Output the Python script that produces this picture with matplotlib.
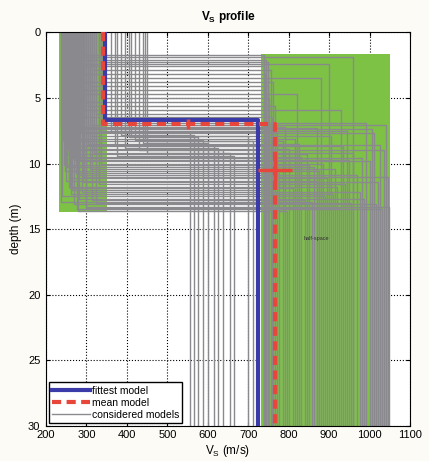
import numpy as np
import matplotlib.pyplot as plt
from matplotlib.patches import Rectangle

plt.rcParams["font.family"] = ["Liberation Sans", "DejaVu Sans"]

# =============================================================================
# Inversion results

ZMAX = 30.0

# Search bounds (Vs min, Vs max, depth top, depth bottom)
bound_layer = [233, 350, 0.0, 13.7]
bound_half = [732, 1050, 1.65, ZMAX]

# Considered models: layer Vs, interface depth, half-space Vs
model_vs1 = [
    250, 300, 265, 330, 285, 245, 320, 275, 340, 255, 310, 290, 270, 335, 260,
    305, 280, 325, 295, 340, 315, 295, 330, 270, 310, 360, 385, 405, 420, 440,
    370, 395, 430, 450, 375, 410, 445, 240, 300, 255, 320, 265, 285, 245, 310,
    275, 295, 250, 330, 260, 290, 240, 315, 270, 300, 280, 325, 250, 335, 265,
    238, 243, 248, 252, 258, 262, 268, 272, 278, 282, 288, 292, 298, 303, 237,
    247, 256, 267, 277, 287,
]
model_h = [
    1.75, 1.9, 2.1, 2.3, 2.45, 2.6, 2.9, 3.2, 3.5, 3.8, 4.1, 4.4, 4.7, 5.0, 5.3,
    5.6, 5.9, 6.2, 6.45, 6.9, 7.1, 7.3, 7.5, 7.7, 7.9, 7.6, 7.8, 8.0, 8.2, 8.4,
    8.6, 8.8, 9.0, 9.2, 9.4, 7.9, 8.3, 8.3, 8.6, 8.9, 9.2, 9.5, 9.8, 10.1, 10.4,
    10.7, 11.0, 11.3, 11.6, 11.9, 12.2, 12.5, 12.8, 13.1, 13.4, 13.6, 13.0, 9.0, 10.0, 12.0,
    7.2, 8.1, 9.3, 10.3, 11.1, 12.3, 8.7, 9.7, 10.9, 12.7, 7.4, 11.4, 13.3, 8.5, 12.9,
    10.6, 11.8, 9.6, 13.5, 7.6,
]
model_vs2 = [
    740, 960, 745, 750, 900, 738, 755, 742, 880, 760, 748, 745, 820, 752, 740,
    765, 930, 744, 758, 990, 1040, 870, 945, 1010, 905, 555, 565, 575, 588, 600,
    615, 625, 638, 655, 665, 700, 712, 785, 1025, 800, 960, 830, 1000, 850, 915,
    775, 1045, 870, 940, 810, 975, 890, 840, 1015, 925, 795, 955, 1035, 885, 760,
    790, 815, 845, 862, 895, 910, 935, 950, 968, 985, 1005, 1020, 1048, 825, 858,
    875, 920, 982, 1030, 770,
]

# Fittest and mean models
fit_vs = [345, 725]
fit_h = 6.7
mean_vs = [340, 765]
mean_h = 7.0

# Mean-model uncertainties
err_depth_at = (552, 7.0)
err_depth = 0.4
err_vs_at = (765, 10.5)
err_vs = 42
err_vs_depth = 0.8


def step_profile(vs1, h, vs2):
    """Two-layer staircase from the surface down to ZMAX"""
    return [vs1, vs1, vs2, vs2], [0.0, h, h, ZMAX]


# =============================================================================
# Plot

fg = plt.figure(figsize=(4.29, 4.61), dpi=100, facecolor="#fcfbf6")
ax = fg.add_axes([0.107, 0.076, 0.849, 0.854])

GREEN = "#7dc244"
GREY = "#8a8a8e"

for b in (bound_layer, bound_half):
    ax.add_patch(
        Rectangle((b[0], b[2]), b[1] - b[0], b[3] - b[2], facecolor=GREEN,
                  edgecolor="none", zorder=1)
    )

for i, (v1, h, v2) in enumerate(zip(model_vs1, model_h, model_vs2)):
    x, y = step_profile(v1, h, v2)
    ax.plot(x, y, color=GREY, lw=1.0, zorder=2,
            label="considered models" if i == 0 else None)

x, y = step_profile(fit_vs[0], fit_h, fit_vs[1])
ax.plot(x, y, color="#3a3aa8", lw=3, zorder=4, label="fittest model")

x, y = step_profile(mean_vs[0], mean_h, mean_vs[1])
ax.plot(x, y, color="#e8463a", lw=3, ls=(0, (2.2, 1.3)), zorder=5, label="mean model")

ax.errorbar(err_depth_at[0], err_depth_at[1], yerr=err_depth, color="#e8463a",
            lw=2.5, capsize=0, zorder=5)
ax.errorbar(err_vs_at[0], err_vs_at[1], xerr=err_vs, yerr=err_vs_depth,
            color="#e8463a", lw=2.5, capsize=0, zorder=5)

ax.text(838, 15.8, "half-space", fontsize=4, color="#333333", zorder=3)

ax.set_xlim(200, 1100)
ax.set_ylim(ZMAX, 0)
ax.set_xticks(np.arange(200, 1101, 100))
ax.set_yticks(np.arange(0, 31, 5))
ax.grid(True, color="k", ls=":", lw=0.8)
ax.set_axisbelow(True)
ax.tick_params(axis="both", labelsize=8, direction="in", length=3,
               top=True, right=True)
ax.tick_params(axis="x", pad=3)
ax.tick_params(axis="y", pad=4)
for sp in ax.spines.values():
    sp.set_linewidth(0.8)

ax.set_title(r"V$_\mathregular{S}$ profile", fontsize=8.5, fontweight="bold", pad=9)
ax.set_xlabel(r"V$_\mathregular{S}$ (m/s)", fontsize=8.5, labelpad=2)
ax.set_ylabel("depth (m)", fontsize=8.5, labelpad=4)

handles, labels = ax.get_legend_handles_labels()
order = [labels.index(n) for n in ("fittest model", "mean model", "considered models")]
ax.legend([handles[k] for k in order], [labels[k] for k in order],
          loc="lower left", fontsize=7.5, frameon=True, fancybox=False,
          edgecolor="k", framealpha=1, handlelength=3.6, handletextpad=0.2,
          borderpad=0.3, labelspacing=0.2, borderaxespad=0.3)

fg.savefig("out.png", dpi=100, facecolor=fg.get_facecolor())
